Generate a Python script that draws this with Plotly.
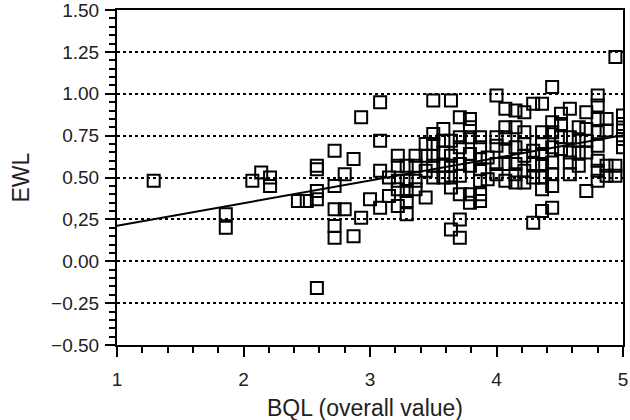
import plotly.graph_objects as go

# ---- data ----
bql = [
    1.29, 1.86, 1.86, 2.07, 2.14, 2.21, 2.21, 2.43, 2.50, 2.58, 2.58, 2.58, 2.58, 2.58,
    2.72, 2.72, 2.72, 2.80, 2.72, 2.72, 2.80, 2.87, 2.87, 2.93, 2.93, 3.00,
    3.08, 3.08, 3.08, 3.08, 3.15, 3.15,
    3.22, 3.22, 3.22, 3.22, 3.22,
    3.29, 3.29, 3.29, 3.29, 3.29,
    3.36, 3.36, 3.36, 3.36,
    3.44, 3.44, 3.44, 3.44,
    3.50, 3.50, 3.50, 3.50, 3.50, 3.50,
    3.58, 3.58, 3.58, 3.58, 3.58,
    3.64, 3.64, 3.64, 3.64, 3.64, 3.64, 3.64,
    3.71, 3.71, 3.71, 3.71, 3.71, 3.71, 3.71, 3.71,
    3.79, 3.79, 3.79, 3.79, 3.79, 3.79, 3.79,
    3.87, 3.87, 3.87, 3.87, 3.87, 3.87, 3.87,
    3.93, 3.93,
    4.00, 4.00, 4.00, 4.00, 4.00,
    4.07, 4.07, 4.07, 4.07, 4.07, 4.07,
    4.15, 4.15, 4.15, 4.15, 4.15, 4.15,
    4.22, 4.22, 4.22, 4.22, 4.22, 4.22,
    4.29, 4.29, 4.29, 4.29, 4.29,
    4.36, 4.36, 4.36, 4.36, 4.36, 4.36, 4.36, 4.36,
    4.44, 4.44, 4.44, 4.44, 4.44, 4.44, 4.44, 4.44,
    4.51, 4.51, 4.51, 4.51,
    4.58, 4.58, 4.58, 4.58, 4.58,
    4.65, 4.65, 4.65, 4.65,
    4.71, 4.71, 4.71, 4.71, 4.71,
    4.80, 4.80, 4.80, 4.80, 4.80, 4.80, 4.80, 4.80,
    4.87, 4.87, 4.87, 4.87,
    4.94, 4.94, 4.94,
    5.00, 5.00, 5.00, 5.00, 5.00,
]
ewl = [
    0.48, 0.28, 0.20, 0.48, 0.53, 0.50, 0.45, 0.36, 0.36, 0.37, 0.42, 0.57, 0.55, -0.16,
    0.66, 0.45, 0.31, 0.31, 0.21, 0.14, 0.52, 0.61, 0.15, 0.86, 0.26, 0.37,
    0.95, 0.72, 0.54, 0.32, 0.50, 0.39,
    0.63, 0.57, 0.48, 0.43, 0.33,
    0.57, 0.48, 0.42, 0.36, 0.28,
    0.63, 0.57, 0.48, 0.43,
    0.70, 0.63, 0.54, 0.38,
    0.96, 0.76, 0.70, 0.63, 0.57, 0.50,
    0.79, 0.72, 0.65, 0.57, 0.50,
    0.96, 0.72, 0.63, 0.57, 0.50, 0.44, 0.19,
    0.86, 0.74, 0.68, 0.58, 0.51, 0.40, 0.25, 0.14,
    0.85, 0.80, 0.74, 0.64, 0.57, 0.40, 0.35,
    0.74, 0.68, 0.61, 0.55, 0.48, 0.40, 0.36,
    0.62, 0.49,
    0.99, 0.74, 0.69, 0.58, 0.52,
    0.91, 0.80, 0.74, 0.66, 0.58, 0.48,
    0.90, 0.80, 0.68, 0.58, 0.52, 0.47,
    0.89, 0.77, 0.70, 0.63, 0.54, 0.47,
    0.94, 0.66, 0.58, 0.50, 0.23,
    0.94, 0.77, 0.70, 0.64, 0.58, 0.50, 0.43, 0.30,
    1.04, 0.83, 0.77, 0.68, 0.59, 0.52, 0.45, 0.32,
    0.88, 0.82, 0.74, 0.67,
    0.91, 0.74, 0.65, 0.59, 0.52,
    0.80, 0.72, 0.65, 0.57,
    0.89, 0.79, 0.72, 0.65, 0.42,
    0.99, 0.93, 0.85, 0.77, 0.69, 0.60, 0.54, 0.48,
    0.85, 0.78, 0.57, 0.51,
    1.22, 0.57, 0.51,
    0.87, 0.82, 0.78, 0.73, 0.68,
]

# regression line
reg_x = [1.0, 5.0]
reg_intercept = 0.077
reg_slope = 0.135
reg_y = [reg_intercept + reg_slope * v for v in reg_x]

y_tickvals = [1.50, 1.25, 1.00, 0.75, 0.50, 0.25, 0.00, -0.25, -0.50]
y_ticktext = ["1.50", "1.25", "1.00", "0.75", "0.50", "0,25", "0.00", "\u22120.25", "\u22120.50"]
x_tickvals = [1, 2, 3, 4, 5]
x_ticktext = ["1", "2", "3", "4", "5"]
x_title = "BQL (overall value)"
y_title = "EWL"

fig = go.Figure()
fig.add_trace(go.Scatter(
    x=reg_x, y=reg_y, mode="lines",
    line=dict(color="black", width=2), showlegend=False, hoverinfo="skip",
))
fig.add_trace(go.Scatter(
    x=bql, y=ewl, mode="markers",
    marker=dict(symbol="square-open", size=12, color="black", line=dict(width=2, color="black")),
    showlegend=False,
))

font_family = "Liberation Sans, Arial, sans-serif"
txt_color = "#222"
fig.update_layout(
    width=630, height=420,
    margin=dict(l=117, r=7, t=10, b=75),
    paper_bgcolor="white", plot_bgcolor="white",
    font=dict(family=font_family, color=txt_color, size=19),
    annotations=[
        dict(text=x_title, xref="paper", yref="paper", x=0.49, y=0, xanchor="center",
             yanchor="middle", yshift=-63, showarrow=False, font=dict(size=23, color=txt_color)),
        dict(text=y_title, xref="paper", yref="paper", x=0, y=0.5, xanchor="center",
             yanchor="middle", xshift=-97, textangle=-90, showarrow=False,
             font=dict(size=23, color=txt_color)),
    ],
)
fig.update_xaxes(
    range=[1, 5], tickvals=x_tickvals, ticktext=x_ticktext,
    showgrid=False, zeroline=False, automargin=False, ticklabeloverflow="allow",
    showline=True, linecolor="black", linewidth=1.5, mirror=True,
    ticks="outside", ticklen=10, tickwidth=1.5, tickcolor="black",
    minor=dict(dtick=0.2, ticks="outside", ticklen=6, tickwidth=1.5, tickcolor="black", showgrid=False),
    tickfont=dict(size=19, color=txt_color), ticklabelstandoff=6,
)
fig.update_yaxes(
    range=[-0.5, 1.5], tickvals=y_tickvals, ticktext=y_ticktext,
    showgrid=True, gridcolor="black", gridwidth=1.5, griddash="dot",
    zeroline=False, automargin=False, ticklabeloverflow="allow",
    showline=True, linecolor="black", linewidth=2, mirror=True,
    ticks="outside", ticklen=10, tickwidth=1.5, tickcolor="black",
    minor=dict(dtick=0.05, ticks="outside", ticklen=6, tickwidth=1.5, tickcolor="black", showgrid=False),
    tickfont=dict(size=19, color=txt_color), ticklabelstandoff=2,
)

fig.write_html(
    "out.html",
    config={"displayModeBar": False},
    post_script="document.body.style.margin='0';document.body.style.overflow='hidden';",
)
